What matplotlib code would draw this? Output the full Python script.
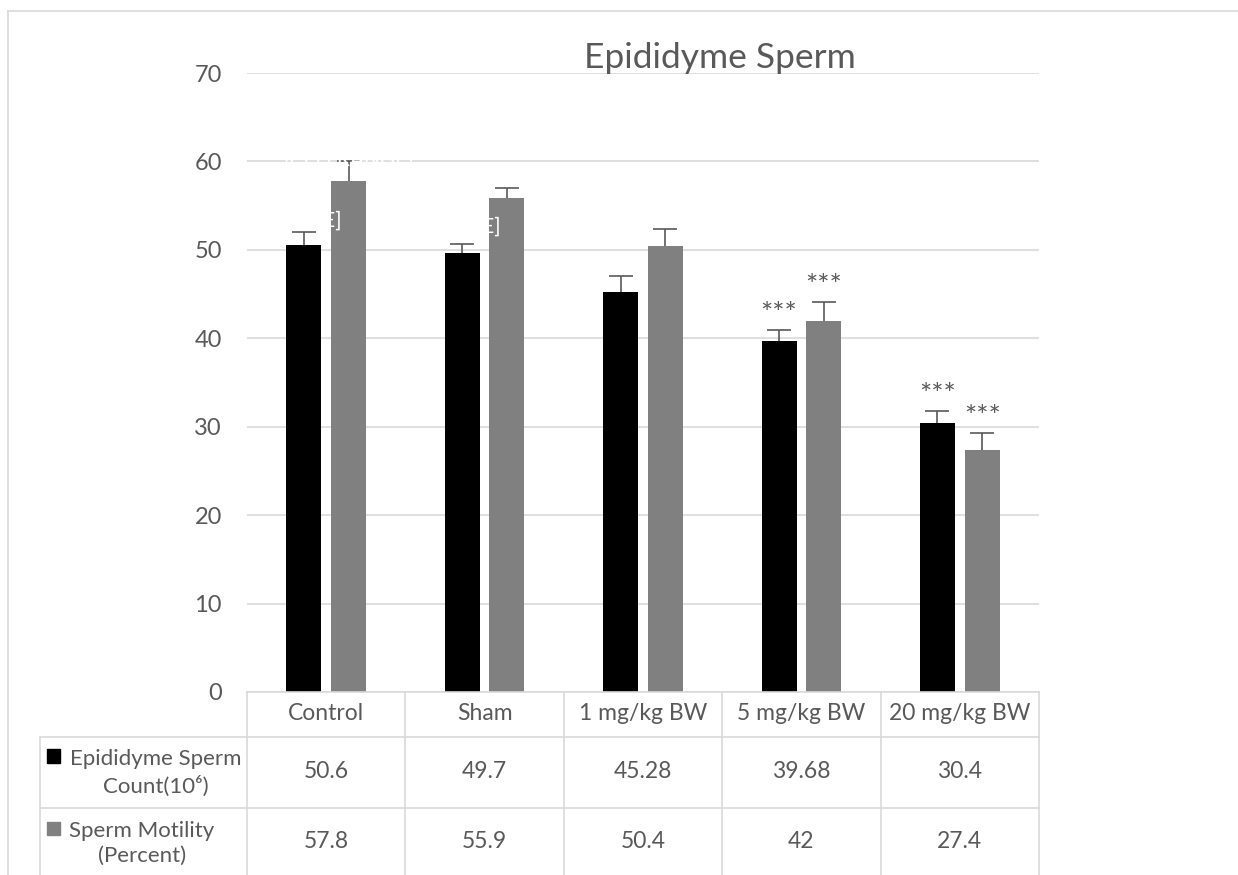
import numpy as np
import matplotlib
matplotlib.use("Agg")
import matplotlib.pyplot as plt
from matplotlib.lines import Line2D
from matplotlib.patches import Rectangle
from matplotlib import transforms

plt.rcParams['font.family'] = ['Lato', 'DejaVu Sans']

# data
groups = ["Control", "Sham", "1 mg/kg BW", "5 mg/kg BW", "20 mg/kg BW"]
count_vals = [50.6, 49.7, 45.28, 39.68, 30.4]
count_err = [1.4, 1.0, 1.8, 1.3, 1.4]
motility_vals = [57.8, 55.9, 50.4, 42, 27.4]
motility_err = [2.3, 1.1, 2.0, 2.15, 1.9]
count_sig = ["", "", "", "***", "***"]
motility_sig = ["", "", "", "***", "***"]
count_label = "Epididyme Sperm\nCount(10\u2076)"
motility_label = "Sperm Motility\n(Percent)"
title = "Epididyme Sperm"

TXT = "#595959"
GRID = "#d9d9d9"
W, H = 1238, 875
FS = 16.5

fig = plt.figure(figsize=(W / 100, H / 100), dpi=100)
ax = fig.add_axes([247 / W, 1 - 692 / H, (1039 - 247) / W, (692 - 73) / H])

x = np.arange(len(groups))
bw = 0.221
off = 0.141
ax.bar(x - off, count_vals, bw, color="black", zorder=3)
ax.bar(x + off, motility_vals, bw, color="#808080", zorder=3)
ekw = dict(fmt="none", ecolor=TXT, elinewidth=1.2, capsize=8.5, capthick=1.2, zorder=4)
for xs, vals, err in [(x - off, count_vals, count_err), (x + off, motility_vals, motility_err)]:
    eb = ax.errorbar(xs, vals, yerr=[np.zeros(len(vals)), err], **ekw)
    # plus-only error bars: hide the cap sitting on the bar top
    eb[1][0].set_visible(False)

# significance stars
for i in range(len(groups)):
    if count_sig[i]:
        ax.text(x[i] - off, count_vals[i] + count_err[i] + 1.7, count_sig[i],
                ha="center", va="center", color=TXT, fontsize=21)
    if motility_sig[i]:
        ax.text(x[i] + off, motility_vals[i] + motility_err[i] + 1.7, motility_sig[i],
                ha="center", va="center", color=TXT, fontsize=21)

# leftover white data-label text (only visible on the grey bars)
ax.text(x[0] + off, 60.2, "[CELLRANGE]", ha="center", va="center", color="white",
        fontsize=15, zorder=5)
ax.text(x[0] + 0.1, 53.3, "[CELLRANGE]", ha="right", va="center", color="white",
        fontsize=15, zorder=5)
ax.text(x[1] + 0.1, 52.6, "[CELLRANGE]", ha="right", va="center", color="white",
        fontsize=15, zorder=5)

ax.set_xlim(-0.5, len(groups) - 0.5)
ax.set_ylim(0, 70)
ax.set_yticks(np.arange(0, 71, 10))
ax.set_xticks([])
ax.yaxis.grid(True, color=GRID, linewidth=1.2)
ax.set_axisbelow(True)
for s in ax.spines.values():
    s.set_visible(False)
ax.tick_params(axis="y", length=0, pad=18, labelsize=17, labelcolor=TXT)

fig.text(720 / W, 1 - 58 / H, title, ha="center", va="center", fontsize=25.5, color=TXT)

# data table under the plot
def fy(py):
    return 1 - py / H

bt = transforms.blended_transform_factory(ax.transData, fig.transFigure)
rows = [692, 737, 808, 880]
lk = dict(color=GRID, linewidth=1.2, clip_on=False)
for xb in np.arange(-0.5, len(groups), 1.0):
    fig.add_artist(Line2D([xb, xb], [fy(rows[0]), fy(rows[-1])], transform=bt, **lk))
fig.add_artist(Line2D([-0.5, len(groups) - 0.5], [fy(692), fy(692)], transform=bt, **lk))
for r in rows[1:3]:
    fig.add_artist(Line2D([40 / W, 1039 / W], [fy(r), fy(r)], **lk))
fig.add_artist(Line2D([40 / W, 40 / W], [fy(737), fy(880)], **lk))

for i, g in enumerate(groups):
    fig.text(x[i], fy(714), g, transform=bt, ha="center", va="center", fontsize=FS, color=TXT)
    fig.text(x[i], fy(772), f"{count_vals[i]:g}", transform=bt, ha="center", va="center",
             fontsize=FS, color=TXT)
    fig.text(x[i], fy(842), f"{motility_vals[i]:g}", transform=bt, ha="center", va="center",
             fontsize=FS, color=TXT)

# legend keys in the row headers
fig.add_artist(Rectangle((47 / W, fy(763)), 13 / W, 14 / H, color="black"))
fig.add_artist(Rectangle((47 / W, fy(835)), 13 / W, 13 / H, color="#808080"))
fig.text(156 / W, fy(773), count_label, ha="center", va="center", fontsize=16,
         color=TXT, linespacing=1.35)
fig.text(142 / W, fy(843), motility_label, ha="center", va="center", fontsize=16,
         color=TXT, linespacing=1.3)

# chart area frame
fig.add_artist(Line2D([8 / W, 8 / W], [fy(11), 0], color=GRID, linewidth=1.2))
fig.add_artist(Line2D([8 / W, 1], [fy(11), fy(11)], color=GRID, linewidth=1.2))

fig.savefig("out.png", dpi=100)
